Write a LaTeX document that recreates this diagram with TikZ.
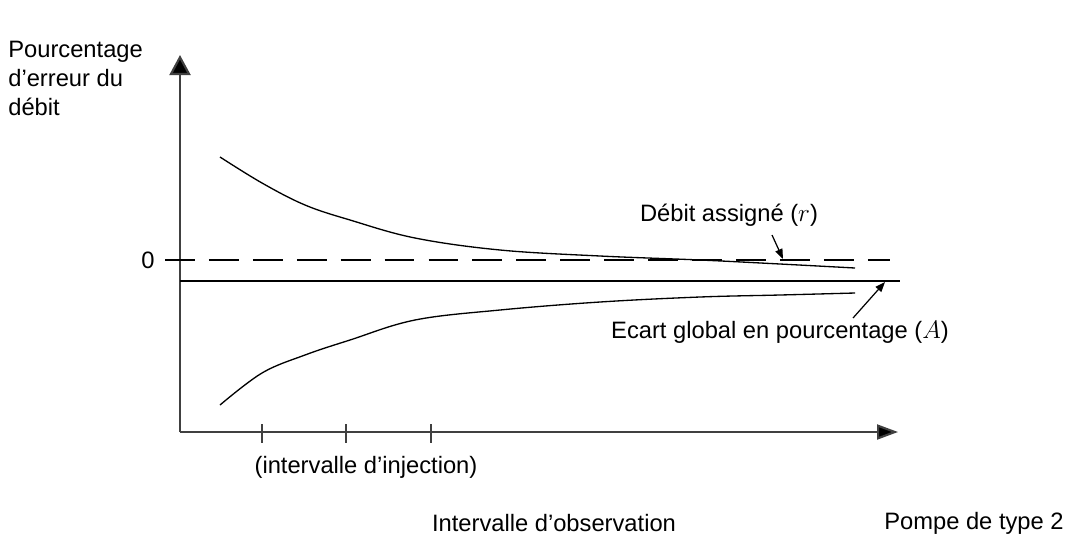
\documentclass[tikz,border=0pt]{standalone}
\usepackage{fontspec}
\setmainfont{Liberation Sans}
\usepackage{tikz}
\usetikzlibrary{arrows.meta}

\begin{document}
\begin{tikzpicture}[x=0.02cm, y=-0.02cm,
	every node/.style={font=\fontsize{13.5}{16.5}\selectfont, inner sep=0pt},
	axis/.style={line width=1.2pt, black!75},
	curve/.style={line width=0.75pt},
	pointer/.style={line width=0.7pt, -{Triangle[length=0.2cm, width=0.15cm]}},
	tickmark/.style={line width=1.2pt, black!75}]
	\useasboundingbox (0,0) rectangle (1070,538);
	% Axes
	\coordinate (O) at (180,432);
	\coordinate (ytip) at (180,55);
	\coordinate (xtip) at (898,432);
	\draw[axis, -{Triangle[length=0.4cm, width=0.42cm, fill=black]}] (O) -- (ytip);
	\draw[axis, -{Triangle[length=0.42cm, width=0.3cm, fill=black]}] (O) -- (xtip);
	\foreach \x in {262,346,431}
		\draw[tickmark] (\x,424) -- (\x,443);
	% Reference lines
	\coordinate (zl) at (165,260);
	\coordinate (zr) at (890,260);
	\coordinate (al) at (180,281);
	\coordinate (ar) at (900,281);
	\draw[line width=0.9pt, dash pattern=on 17pt off 8pt] (zl) -- (zr);
	\draw[line width=0.9pt] (al) -- (ar);
	% Curves
	\draw[curve] plot[smooth, tension=0.6] coordinates {(220,157) (262,183) (305,205) (350,220) (415,238) (500,250) (600,256) (700,260) (780,264) (855,268)};
	\draw[curve] plot[smooth, tension=0.6] coordinates {(220,405) (262,373) (305,355) (350,340) (415,320) (500,310) (600,302) (700,297) (780,295) (855,293)};
	% Labels
	\node[anchor=north west, align=left] (ylbl) at (8,41) {Pourcentage\\d'erreur du\\débit};
	\node[anchor=east] (zero) at (155,260) {0};
	\node (rlbl) at (729,215) {Débit assigné ($r$)};
	\node (albl) at (780,332) {Ecart global en pourcentage ($A$)};
	\node (inj) at (366,467) {(intervalle d'injection)};
	\node (obs) at (554,523) {Intervalle d'observation};
	\node[anchor=east] (pompe) at (1064,523) {Pompe de type 2};
	% Pointers
	\coordinate (rfoot) at (772,235);
	\coordinate (rtip) at (783,259);
	\coordinate (afoot) at (853,318);
	\coordinate (atip) at (885,282);
	\draw[pointer] (rfoot) -- (rtip);
	\draw[pointer] (afoot) -- (atip);
\end{tikzpicture}
\end{document}
